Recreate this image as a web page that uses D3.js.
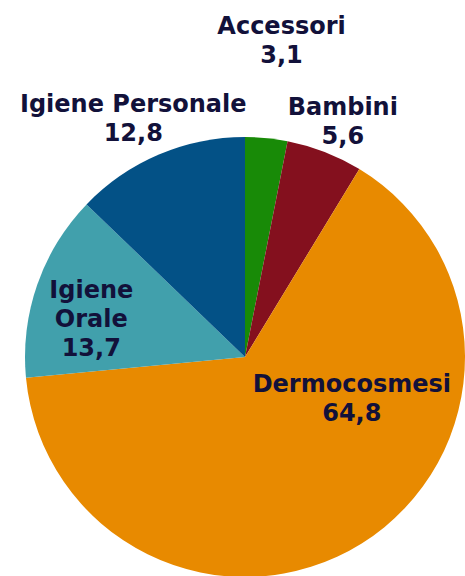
<!DOCTYPE html>
<html>
<head>
<meta charset="utf-8">
<script src="https://cdn.jsdelivr.net/npm/d3@7"></script>
<style>
    body { margin: 0; background: #fff; }
</style>
</head>
<body>
<div id="container"></div>
<script>
// data
const categories = ["Accessori", "Bambini", "Dermocosmesi", "Igiene Orale", "Igiene Personale"]
const values = [3.1, 5.6, 64.8, 13.7, 12.8]
const colors = ["#188a07", "#84101e", "#e88a00", "#41a0ac", "#035186"]

// label layout: radius factor + angle shift (degrees) from slice middle, and line breaks
const labelLayout = {
    "Accessori": { k: 1.45, shift: 1, lines: ["Accessori"] },
    "Bambini": { k: 1.16, shift: 1.3, lines: ["Bambini"] },
    "Dermocosmesi": { k: 0.52, shift: -37, lines: ["Dermocosmesi"] },
    "Igiene Orale": { k: 0.72, shift: -5.3, lines: ["Igiene", "Orale"] },
    "Igiene Personale": { k: 1.2, shift: -2, lines: ["Igiene Personale"] }
}

const width = 465, height = 576
const cx = 245, cy = 357, radius = 220
const lineHeight = 29

let svg = d3.select("#container")
    .append("svg")
    .attr("width", width)
    .attr("height", height)
    .append("g")
    .attr("transform", "translate(" + cx + "," + cy + ")")

let data = categories.map((c, i) => ({ name: c, value: values[i], color: colors[i] }))

const pie = d3.pie().value(d => d.value).sort(null)
const arc = d3.arc().innerRadius(0).outerRadius(radius)

let arcs = pie(data)

svg.selectAll("path.slice")
    .data(arcs)
    .enter()
    .append("path")
    .attr("class", "slice")
    .attr("d", arc)
    .attr("fill", d => d.data.color)
    .attr("stroke", "none")

// labels
let labels = svg.selectAll("text.label")
    .data(arcs)
    .enter()
    .append("text")
    .attr("class", "label")
    .attr("text-anchor", "middle")
    .style("font-family", "'DejaVu Sans', Verdana, sans-serif")
    .style("font-weight", "bold")
    .style("font-size", "24px")
    .style("fill", "#12113a")
    .attr("transform", function (d) {
        let lay = labelLayout[d.data.name]
        let a = (d.startAngle + d.endAngle) / 2 + lay.shift * Math.PI / 180
        let r = radius * lay.k
        return "translate(" + (Math.sin(a) * r) + "," + (-Math.cos(a) * r) + ")"
    })

labels.each(function (d) {
    let lay = labelLayout[d.data.name]
    let lines = lay.lines.concat([d3.format(".1f")(d.data.value).replace(".", ",")])
    let top = -(lines.length - 1) * lineHeight / 2
    d3.select(this).selectAll("tspan")
        .data(lines)
        .enter()
        .append("tspan")
        .attr("x", 0)
        .attr("y", (t, i) => top + i * lineHeight)
        .attr("dy", "0.36em")
        .text(t => t)
})
</script>
</body>
</html>
